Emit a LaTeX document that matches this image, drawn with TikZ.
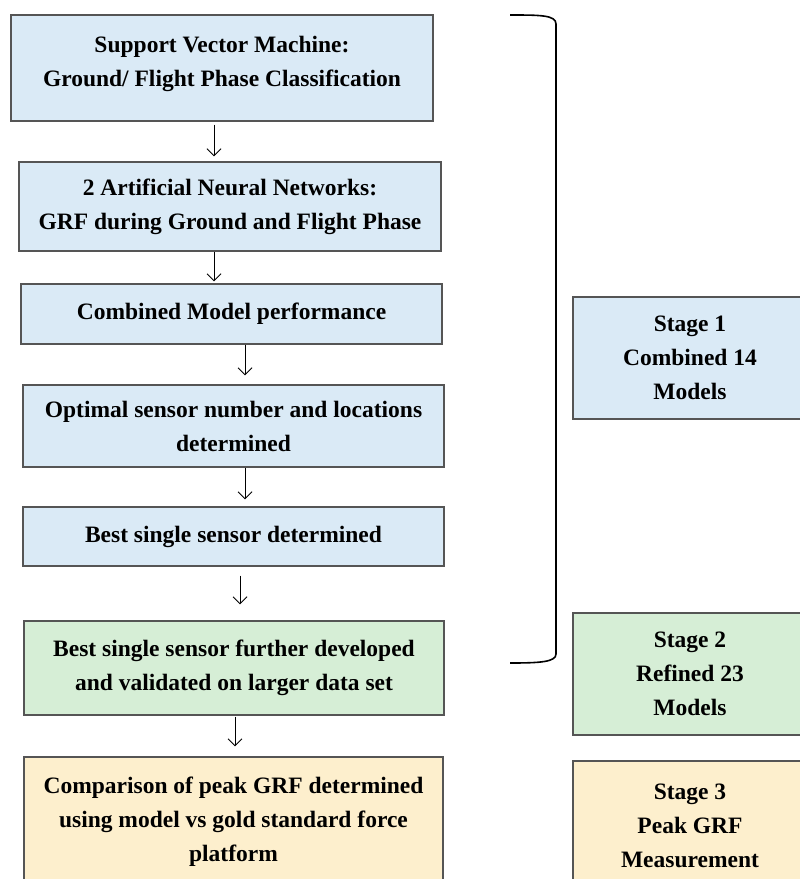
\documentclass[tikz,border=0pt]{standalone}
\usepackage{fontspec}
\setmainfont{Liberation Serif}
\usetikzlibrary{arrows.meta}
\definecolor{bluefill}{HTML}{DAEAF6}
\definecolor{greenfill}{HTML}{D6EED6}
\definecolor{yellowfill}{HTML}{FDEFCD}
\definecolor{edge}{HTML}{555555}
\begin{document}
\begin{tikzpicture}[x=1pt,y=-1pt,
  box/.style={draw=edge,line width=1.1pt,inner sep=0pt,align=center,
    font=\fontsize{23.5}{34}\selectfont\bfseries},
  arr/.style={line width=1pt,-{Straight Barb[length=7pt,width=14pt,line width=1pt]}}]
\useasboundingbox (0,0) rectangle (800,879);
\clip (0,0) rectangle (800,879);
\fill[white] (0,0) rectangle (800,879);
\node[box,fill=bluefill,minimum width=422pt,minimum height=106pt] (b1) at (222,68)
  {\raisebox{5pt}[\height][\depth]{\begin{tabular}{@{}c@{}}Support Vector Machine:\\Ground/ Flight Phase Classification\end{tabular}}};
\node[box,fill=bluefill,minimum width=422pt,minimum height=89pt] (b2) at (230,206.5)
  {2 Artificial Neural Networks:\\GRF during Ground and Flight Phase};
\node[box,fill=bluefill,minimum width=421pt,minimum height=60pt] (b3) at (231.5,314)
  {Combined Model performance};
\node[box,fill=bluefill,minimum width=421pt,minimum height=82pt] (b4) at (233.5,426)
  {Optimal sensor number and locations\\determined};
\node[box,fill=bluefill,minimum width=421pt,minimum height=59pt] (b5) at (233.5,536.5)
  {Best single sensor determined};
\node[box,fill=greenfill,minimum width=420pt,minimum height=94pt] (b6) at (234,668)
  {Best single sensor further developed\\and validated on larger data set};
\node[box,fill=yellowfill,minimum width=419pt,minimum height=130pt] (b7) at (233.5,822)
  {Comparison of peak GRF determined\\using model vs gold standard force\\platform};
\node[box,fill=bluefill,minimum width=234pt,minimum height=122pt] (s1) at (690,358)
  {Stage 1\\Combined 14\\Models};
\node[box,fill=greenfill,minimum width=234pt,minimum height=122pt] (s2) at (690,674)
  {Stage 2\\Refined 23\\Models};
\node[box,fill=yellowfill,minimum width=234pt,minimum height=130pt] (s3) at (690,826)
  {Stage 3\\Peak GRF\\Measurement};
\draw[arr] ([xshift=-8pt,yshift=-3pt]b1.south) -- ([xshift=-16pt,yshift=5pt]b2.north);
\draw[arr] ([xshift=-16pt]b2.south) -- ([xshift=-17.5pt,yshift=2pt]b3.north);
\draw[arr] ([xshift=13.5pt]b3.south) -- ([xshift=11.5pt,yshift=9pt]b4.north);
\draw[arr] ([xshift=11.5pt]b4.south) -- ([xshift=11.5pt,yshift=7pt]b5.north);
\draw[arr] ([xshift=6.5pt,yshift=-9pt]b5.south) -- ([xshift=6pt,yshift=16pt]b6.north);
\draw[arr] ([xshift=1pt,yshift=-1pt]b6.south) -- ([xshift=1.5pt,yshift=10pt]b7.north);
\coordinate (brtop) at (510,15);
\coordinate (brbot) at (510,663);
\draw[line width=1.6pt,black] (brtop) .. controls (540,15) and (556,15) .. (556,24)
  -- (556,654) .. controls (556,662) and (540,663) .. (brbot);
\end{tikzpicture}
\end{document}
